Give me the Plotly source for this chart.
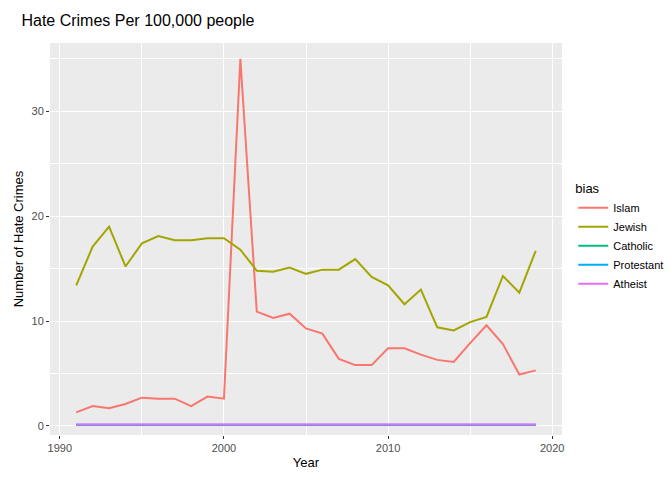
import plotly.graph_objects as go

years = list(range(1991, 2020))
islam = [1.3,1.9,1.7,2.1,2.7,2.6,2.6,1.9,2.8,2.6,35.0,10.9,10.3,10.7,9.3,8.8,6.4,5.8,5.8,7.4,7.4,6.8,6.3,6.1,7.9,9.6,7.8,4.9,5.3]
jewish = [13.4,17.1,19.0,15.2,17.4,18.1,17.7,17.7,17.9,17.9,16.8,14.8,14.7,15.1,14.5,14.9,14.9,15.9,14.2,13.4,11.6,13.0,9.4,9.1,9.9,10.4,14.3,12.7,16.7]
catholic = [0.1]*29
protestant = [0.12]*29
atheist = [0.15]*29

series = [("Islam", islam, "#F8766D"), ("Jewish", jewish, "#A3A500"),
          ("Catholic", catholic, "#00BF7D"), ("Protestant", protestant, "#00B0F6"),
          ("Atheist", atheist, "#E76BF3")]

fig = go.Figure()
for name, vals, col in series:
    fig.add_trace(go.Scatter(x=years, y=vals, name=name, mode="lines",
                             line=dict(color=col, width=2)))

fig.update_layout(
    width=672, height=480, paper_bgcolor="white", plot_bgcolor="#EBEBEB",
    margin=dict(l=42, r=117, t=35, b=53),
    font=dict(family="Liberation Sans, Arial", color="#4D4D4D", size=11),
    title=dict(text="Hate Crimes Per 100,000 people", x=0.02, xanchor="left",
               y=0.985, yanchor="top", font=dict(size=16, color="black")),
    legend=dict(title=dict(text="bias", font=dict(size=13, color="black")),
                x=1.02, y=0.66, yanchor="top", bgcolor="rgba(0,0,0,0)",
                font=dict(size=11, color="black")),
)
fig.update_xaxes(range=[1989.4, 2020.6], tickvals=[1990, 2000, 2010, 2020],
                 automargin=False,
                 showgrid=True, gridcolor="white", gridwidth=1.2, zeroline=False,
                 ticks="outside", ticklen=3, tickcolor="#333333",
                 minor=dict(dtick=5, tick0=1995, showgrid=True, gridcolor="white", gridwidth=0.5),
                 title=dict(text="Year", font=dict(size=13, color="black"), standoff=4))
fig.update_yaxes(range=[-0.86, 36.5], tickvals=[0, 10, 20, 30],
                 automargin=False,
                 showgrid=True, gridcolor="white", gridwidth=1.2, zeroline=False,
                 ticks="outside", ticklen=3, tickcolor="#333333",
                 minor=dict(dtick=5, tick0=5, showgrid=True, gridcolor="white", gridwidth=0.5),
                 title=dict(text="Number of Hate Crimes", font=dict(size=13, color="black"), standoff=4))
fig.write_html("out.html")
